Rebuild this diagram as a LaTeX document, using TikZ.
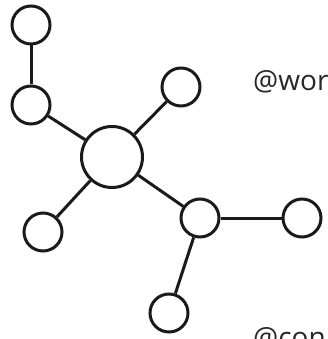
\documentclass[tikz,border=0pt]{standalone}
\usepackage{fontspec}
\setmainfont{Open Sans}
\usepackage{tikz}
\definecolor{Nline}{RGB}{26,26,26}
\definecolor{Ntext}{RGB}{40,40,40}

\begin{document}
\begin{tikzpicture}[x=1pt,y=-1pt,
    hub/.style={circle, draw=Nline, line width=3pt, fill=white, minimum size=61pt, inner sep=0pt},
    leaf/.style={circle, draw=Nline, line width=3pt, fill=white, minimum size=38pt, inner sep=0pt},
    link/.style={draw=Nline, line width=3pt},
    handle/.style={anchor=base west, inner sep=0pt, text=Ntext, font=\fontsize{28}{32}\selectfont}]

  % ------------------------------------------------
  % frame of the picture (text runs off the edge)
  % ------------------------------------------------
  \useasboundingbox (0,0) rectangle (327,339);
  \clip (0,0) rectangle (327,339);

  % nodes
  \node[hub]  (hub)    at (112,157) {};
  \node[leaf] (top)    at (31,25)   {};
  \node[leaf] (left)   at (31,105)  {};
  \node[leaf] (upright) at (181,87) {};
  \node[leaf] (lowleft) at (43,232) {};
  \node[leaf] (mid)    at (200,218) {};
  \node[leaf] (far)    at (302,218) {};
  \node[leaf] (bottom) at (169,313) {};

  % connectors
  \draw[link] (top) -- (left);
  \draw[link] (left) -- (hub);
  \draw[link] (hub) -- (upright);
  \draw[link] (hub) -- (lowleft);
  \draw[link] (hub) -- (mid);
  \draw[link] (mid) -- (far);
  \draw[link] (mid) -- (bottom);

  % handles
  \node[handle] (handleA) at (253,91)  {@wor};
  \node[handle] (handleB) at (253,347) {@con};
\end{tikzpicture}
\end{document}
